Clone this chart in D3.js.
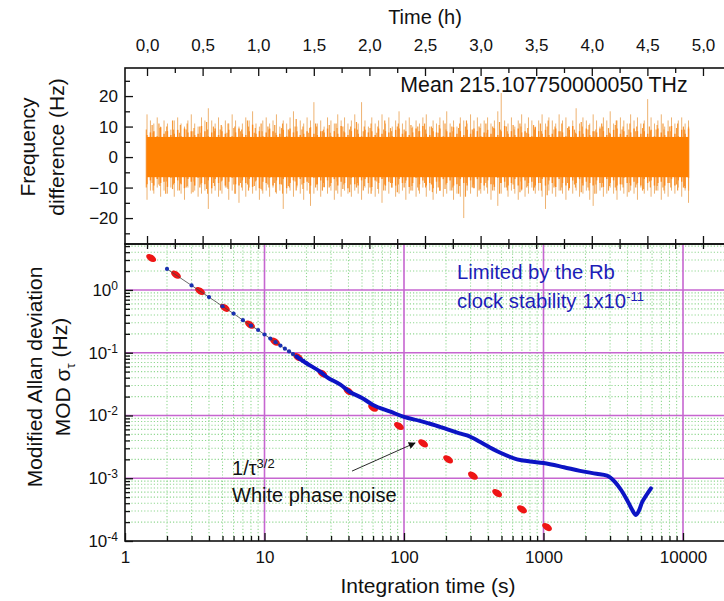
<!DOCTYPE html>
<html><head><meta charset="utf-8">
<script src="https://cdn.jsdelivr.net/npm/d3@7"></script>
<style>body{margin:0;background:#fff} text{font-family:"Liberation Sans",Arial,sans-serif;fill:#111}</style>
</head><body><svg id="c" width="724" height="601"></svg>
<script>
// ---------------- data ----------------
const timeMajorTicks = [0,0.5,1,1.5,2,2.5,3,3.5,4,4.5,5];
const timeMinorTicks = [0.25,0.75,1.25,1.75,2.25,2.75,3.25,3.75,4.25,4.75];
const freqMajorTicks = [-20,-10,0,10,20];
const freqMinorTicks = [-25,-15,-5,5,15,25];
const tauTicks = [1,10,100,1000,10000];
const sigmaTicks = [1e-4,1e-3,1e-2,1e-1,1];

const noiseStart = 0, noiseEnd = 4.87; // hours
// outer spike envelope (Hz)
const noiseHi = [14,12,11,13,10,12,11,9,12,13,11,10,12,14,11,10,13,12,16,12,
 11,13,10,12,11,14,12,10,11,13,12,15,11,10,12,13,11,12,14,10,
 12,11,13,15,10,12,11,13,12,18,11,12,10,13,12,11,14,12,13,11,
 12,14,11,18,12,10,13,11,12,14,11,13,10,12,15,11,12,13,10,12,
 11,13,14,10,12,11,13,12,15,11,12,10,13,12,11,14,12,13,11,12,
 13,11,12,15,21,12,11,13,10,12,14,11,13,12,10,12,14,11,13,12,
 11,14,12,13,10,12,16,11,13,12,11,14,12,10,13,12,15,11,12,13,
 12,11,14,12,13,11,12,19,13,11,12,14,10,12,13,11,12,13,11,12];
const noiseLo = [-14,-11,-12,-10,-13,-11,-12,-10,-13,-11,-12,-14,-10,-12,-11,-13,-12,-11,-17,-12,
 -11,-13,-12,-10,-14,-11,-12,-15,-11,-13,-10,-12,-11,-14,-12,-11,-13,-10,-12,-11,
 -17,-12,-11,-13,-10,-12,-14,-11,-16,-12,-11,-13,-10,-12,-11,-14,-12,-13,-11,-12,
 -13,-11,-12,-14,-10,-12,-11,-13,-12,-15,-11,-12,-10,-13,-12,-11,-14,-12,-11,-13,
 -12,-10,-13,-11,-14,-12,-11,-13,-12,-11,-14,-12,-13,-20,-11,-12,-10,-13,-12,-11,
 -12,-14,-11,-16,-12,-10,-13,-11,-12,-14,-11,-13,-12,-10,-12,-11,-13,-17,-11,-12,
 -13,-11,-12,-14,-10,-12,-11,-13,-12,-11,-14,-16,-12,-11,-13,-12,-10,-12,-14,-11,
 -12,-13,-11,-12,-14,-10,-12,-11,-13,-12,-11,-14,-12,-13,-11,-12,-10,-13,-11,-15];
// dense inner envelope (Hz)
const midHi = [9,10.5,8,11,9.5,8.5,10,12,9,8,10.5,9,11,8.5,9.5,10,8,11.5,9,10,
 8.5,9,10.5,8,11,9.5,10,8.5,9,12,10,8,9.5,11,8.5,10,9,10.5,8,9.5,
 11,9,8.5,10,12.5,9,10,8,9.5,11,10,8.5,9,10.5,8,11,9.5,10,8.5,9,
 10,11.5,9,8.5,10,9.5,11,8,10,9,12,9.5,8.5,10,11,9,8,10.5,9.5,10,
 8.5,11,9,10,9.5,8,10.5,11,9,10,8.5,9.5,11,10,12,9,8.5,10,9.5,11,
 8,10,9.5,11.5,9,10,8.5,10.5,9,11,10,8,9.5,10.5,9,11,8.5,10,12,9,
 10,8.5,11,9.5,10,9,8,11.5,10,9,10.5,8.5,9,11,10,9.5,8,10.5,12,9,
 10,9,11,8.5,10,9.5,11,10,8.5,9,10.5,11,9,10,8.5,9.5,11,10,9,10];
const midLo = [-10,-8.5,-11,-9,-9.5,-12,-8,-10.5,-9,-11,-8.5,-10,-9.5,-11.5,-8,-10,-9,-10.5,-12,-8.5,
 -9.5,-11,-8,-10,-10.5,-9,-12,-8.5,-10,-9,-11,-9.5,-8,-10.5,-11,-9,-10,-8.5,-11.5,-9,
 -12,-9.5,-10,-8,-11,-9,-10.5,-8.5,-12,-10,-9,-11,-8.5,-10,-9.5,-11,-8,-10.5,-9,-11.5,
 -9,-10,-8.5,-11,-9.5,-10,-12,-8,-10.5,-11,-9,-8.5,-10,-11.5,-9,-10,-8.5,-11,-9.5,-10,
 -11,-8.5,-10,-9,-11.5,-10,-8,-10.5,-9,-11,-10,-12,-9.5,-13,-8.5,-10,-9,-11,-10.5,-8.5,
 -10,-11,-9,-12,-8.5,-10,-11,-9,-10.5,-11.5,-8,-10,-9.5,-11,-10,-8.5,-11,-12.5,-9,-10,
 -9.5,-11,-10,-8.5,-11,-9,-10,-11.5,-8.5,-10,-11,-12,-9,-10,-8.5,-11,-9.5,-10,-11,-9,
 -10,-11.5,-8.5,-10,-9,-11,-10.5,-8,-10,-11,-9.5,-10,-11,-8.5,-10,-9,-11,-10,-9.5,-11];
const coreHalf = 6.6; // solid core half width (Hz)

// white phase noise reference (1/tau^3/2)
const whiteTau   = [1.54,2.32,3.45,5.2,7.87,11.9,17.4,26,40,60,92,137,207,312,465,701,1060];
const whiteSigma = [3.23,1.75,0.963,0.52,0.28,0.15,0.085,0.0466,0.0244,0.0133,0.0068,0.0036,0.002,0.0011,0.00058,0.00032,0.000167];

// measured MOD Allan deviation: sparse points (thin part)
const rbDotTau   = [2,3,4,5,6,7,8,9,10,11,12,13,14,15,16,17,18,19,20];
const rbDotSigma = [2.16,1.18,0.77,0.55,0.42,0.33,0.27,0.23,0.195,0.168,0.147,0.13,0.116,0.105,0.095,0.087,0.08,0.074,0.068];
// dense part (thick line)
const rbTau   = [17,20,25,28,35,41,50,60,80,100,130,150,181,200,250,283,350,413,500,646,800,1000,1400,1827,2400,2850,3260,3600,3970,4300,4600,4850,5080,5500,5890];
const rbSigma = [0.087,0.068,0.05,0.041,0.031,0.0237,0.019,0.0147,0.0115,0.0095,0.0082,0.0075,0.0066,0.0061,0.0052,0.0048,0.0038,0.0031,0.0025,0.002,0.00185,0.00175,0.0015,0.00131,0.00118,0.0011,0.00087,0.00065,0.00045,0.00032,0.00026,0.00031,0.00041,0.00055,0.00069];

// ---------------- layout ----------------
const L = 125, R = 725, T1 = 68, S = 244, B = 541;
const svg = d3.select("#c");

const xTime = d3.scaleLinear().domain([-0.198, 5.198]).range([L, R]);
const yFreq = d3.scaleLinear().domain([-28.5, 29.2]).range([S, T1]);
const xTau = d3.scaleLog().domain([1, 20000]).range([L, R]);
const ySig = d3.scaleLog().domain([1e-4, 5.4]).range([B, S]);

svg.append("defs").html(
  `<clipPath id="cpTop"><rect x="${L}" y="${T1}" width="${R-L}" height="${S-T1}"/></clipPath>
   <clipPath id="cpBot"><rect x="${L}" y="${S}" width="${R-L}" height="${B-S}"/></clipPath>
   <marker id="arr" viewBox="0 0 10 10" refX="9" refY="5" markerWidth="9" markerHeight="7" orient="auto" markerUnits="userSpaceOnUse">
     <path d="M0,0 L10,5 L0,10 z" fill="#111"/></marker>`);

// ---------------- top panel: frequency noise ----------------
const gTop = svg.append("g").attr("clip-path", "url(#cpTop)");
const tAt = (arr, i) => noiseStart + i * (noiseEnd - noiseStart) / (arr.length - 1);
gTop.selectAll("line.sp").data(noiseHi).join("line")
  .attr("x1", (d,i) => xTime(tAt(noiseHi, i))).attr("x2", (d,i) => xTime(tAt(noiseHi, i)))
  .attr("y1", (d,i) => yFreq(noiseLo[i])).attr("y2", d => yFreq(d))
  .attr("stroke", "#eeb270").attr("stroke-width", 1);
const off = (noiseEnd - noiseStart) / (midHi.length - 1) / 2;
gTop.selectAll("line.mid").data(midHi).join("line")
  .attr("x1", (d,i) => xTime(Math.min(noiseEnd, tAt(midHi, i) + off * (i % 2 ? 1 : -0.4))))
  .attr("x2", (d,i) => xTime(Math.min(noiseEnd, tAt(midHi, i) + off * (i % 2 ? 1 : -0.4))))
  .attr("y1", (d,i) => yFreq(midLo[i])).attr("y2", d => yFreq(d))
  .attr("stroke", "#f69a3a").attr("stroke-width", 1.2);
gTop.selectAll("line.mid2").data(midHi).join("line")
  .attr("x1", (d,i) => xTime(tAt(midHi, i))).attr("x2", (d,i) => xTime(tAt(midHi, i)))
  .attr("y1", (d,i) => yFreq(midLo[(i + 7) % midLo.length] * 0.85)).attr("y2", (d,i) => yFreq(midHi[(i + 13) % midHi.length] * 0.85))
  .attr("stroke", "#fb8a1e").attr("stroke-width", 1.4);
gTop.append("rect").attr("x", xTime(noiseStart)).attr("width", xTime(noiseEnd)-xTime(noiseStart))
  .attr("y", yFreq(coreHalf)).attr("height", yFreq(-coreHalf)-yFreq(coreHalf)).attr("fill", "#ff8000");

// ---------------- bottom panel: grids ----------------
const gBot = svg.append("g").attr("clip-path", "url(#cpBot)");
const minorTau = [], minorSig = [];
[1,10,100,1000,10000].forEach(dec => [2,3,4,5,6,7,8,9].forEach(m => minorTau.push(dec*m)));
[1e-4,1e-3,1e-2,1e-1,1].forEach(dec => [2,3,4,5,6,7,8,9].forEach(m => minorSig.push(dec*m)));
gBot.selectAll("line.mgx").data(minorTau).join("line")
  .attr("x1", d => xTau(d)).attr("x2", d => xTau(d)).attr("y1", S).attr("y2", B)
  .attr("stroke", "#92d892").attr("stroke-width", 1.1).attr("stroke-dasharray", "1.2,2");
gBot.selectAll("line.mgy").data(minorSig).join("line")
  .attr("x1", L).attr("x2", R).attr("y1", d => ySig(d)).attr("y2", d => ySig(d))
  .attr("stroke", "#92d892").attr("stroke-width", 1.1).attr("stroke-dasharray", "1.2,2");
gBot.selectAll("line.Mgx").data(tauTicks.slice(1)).join("line")
  .attr("x1", d => xTau(d)).attr("x2", d => xTau(d)).attr("y1", S).attr("y2", B)
  .attr("stroke", "#c666d0").attr("stroke-width", 1.6);
gBot.selectAll("line.Mgy").data(sigmaTicks.slice(1)).join("line")
  .attr("x1", L).attr("x2", R).attr("y1", d => ySig(d)).attr("y2", d => ySig(d))
  .attr("stroke", "#c666d0").attr("stroke-width", 1.6);

// ---------------- bottom panel: data ----------------
const ang = Math.atan2(ySig(whiteSigma[1]) - ySig(whiteSigma[0]), xTau(whiteTau[1]) - xTau(whiteTau[0])) * 180 / Math.PI;
gBot.selectAll("ellipse.wp").data(whiteTau).join("ellipse")
  .attr("transform", (d,i) => `translate(${xTau(d)},${ySig(whiteSigma[i])}) rotate(${ang})`)
  .attr("rx", 5.5).attr("ry", 3.3).attr("fill", "#ee1515");

gBot.append("path")
  .attr("d", d3.line().x(d => xTau(d)).y((d,i) => ySig(rbDotSigma[i]))(rbDotTau))
  .attr("fill", "none").attr("stroke", "#444").attr("stroke-width", 0.8);
gBot.selectAll("circle.rb").data(rbDotTau).join("circle")
  .attr("cx", d => xTau(d)).attr("cy", (d,i) => ySig(rbDotSigma[i])).attr("r", 2.1)
  .attr("fill", "#1a30b0");
gBot.append("path")
  .attr("d", d3.line().curve(d3.curveMonotoneX).x(d => xTau(d)).y((d,i) => ySig(rbSigma[i]))(rbTau))
  .attr("fill", "none").attr("stroke", "#0c14c4").attr("stroke-width", 4).attr("stroke-linejoin", "round").attr("stroke-linecap", "round");

// ---------------- frames ----------------
svg.append("rect").attr("x", L).attr("y", T1).attr("width", R-L).attr("height", S-T1)
  .attr("fill", "none").attr("stroke", "#111").attr("stroke-width", 1.6);
svg.append("rect").attr("x", L).attr("y", S).attr("width", R-L).attr("height", B-S)
  .attr("fill", "none").attr("stroke", "#111").attr("stroke-width", 1.6);

// ---------------- axes ----------------
function styleAx(g) {
  g.select(".domain").remove();
  g.selectAll(".tick line").attr("stroke", "#111").attr("stroke-width", 1.3);
  g.selectAll("text").attr("font-size", 17).attr("fill", "#111")
    .attr("font-family", '"Liberation Sans",Arial,sans-serif');
}
const fmtH = d => d.toFixed(1).replace(".", ",");
svg.append("g").attr("transform", `translate(0,${T1})`)
  .call(d3.axisTop(xTime).tickValues(timeMajorTicks).tickSizeInner(-8).tickSizeOuter(0).tickPadding(17).tickFormat(fmtH)).call(styleAx);
svg.append("g").attr("transform", `translate(0,${T1})`)
  .call(d3.axisTop(xTime).tickValues(timeMinorTicks).tickSizeInner(-5).tickSizeOuter(0).tickFormat("")).call(styleAx);
svg.append("g").attr("transform", `translate(0,${S})`)
  .call(d3.axisBottom(xTime).tickValues(timeMajorTicks).tickSizeInner(-8).tickSizeOuter(0).tickFormat("")).call(styleAx);
svg.append("g").attr("transform", `translate(0,${S})`)
  .call(d3.axisBottom(xTime).tickValues(timeMinorTicks).tickSizeInner(-5).tickSizeOuter(0).tickFormat("")).call(styleAx);
svg.append("g").attr("transform", `translate(0,${S})`)
  .call(d3.axisBottom(xTime).tickValues(timeMajorTicks.concat(timeMinorTicks)).tickSizeInner(5).tickSizeOuter(0).tickFormat("")).call(styleAx);
svg.append("g").attr("transform", `translate(${L},0)`)
  .call(d3.axisLeft(yFreq).tickValues(freqMajorTicks).tickSizeInner(-8).tickSizeOuter(0).tickPadding(7).tickFormat(d3.format("d"))).call(styleAx);
svg.append("g").attr("transform", `translate(${L},0)`)
  .call(d3.axisLeft(yFreq).tickValues(freqMinorTicks).tickSizeInner(-5).tickSizeOuter(0).tickFormat("")).call(styleAx);
svg.append("g").attr("transform", `translate(0,${B})`)
  .call(d3.axisBottom(xTau).tickValues(tauTicks).tickSizeInner(-8).tickSizeOuter(0).tickPadding(10).tickFormat(d3.format("d"))).call(styleAx);
svg.append("g").attr("transform", `translate(0,${B})`)
  .call(d3.axisBottom(xTau).tickValues(minorTau).tickSizeInner(-5).tickSizeOuter(0).tickFormat("")).call(styleAx);
const gy = svg.append("g").attr("transform", `translate(${L},0)`)
  .call(d3.axisLeft(ySig).tickValues(sigmaTicks).tickSizeInner(-8).tickSizeOuter(0).tickPadding(7).tickFormat(d => "10")).call(styleAx);
gy.selectAll(".tick text").each(function(d) {
  const e = Math.round(Math.log10(d));
  d3.select(this).append("tspan").attr("dy", "-0.5em").attr("font-size", 12).text(e);
});
svg.append("g").attr("transform", `translate(${L},0)`)
  .call(d3.axisLeft(ySig).tickValues(minorSig.filter(v => v < 5.4)).tickSizeInner(-5).tickSizeOuter(0).tickFormat("")).call(styleAx);

// ---------------- titles ----------------
svg.append("text").attr("x", (L+R)/2).attr("y", 24).attr("text-anchor", "middle").attr("font-size", 20).text("Time (h)");
svg.append("text").attr("x", (L+R)/2 + 3).attr("y", 593).attr("text-anchor", "middle").attr("font-size", 21).text("Integration time (s)");
svg.append("text").attr("transform", "translate(35,147) rotate(-90)").attr("text-anchor", "middle").attr("font-size", 21).text("Frequency");
svg.append("text").attr("transform", "translate(64,147) rotate(-90)").attr("text-anchor", "middle").attr("font-size", 21).text("difference (Hz)");
svg.append("text").attr("transform", "translate(42,377) rotate(-90)").attr("text-anchor", "middle").attr("font-size", 21).text("Modified Allan deviation");
const modT = svg.append("text").attr("transform", "translate(70,377) rotate(-90)").attr("text-anchor", "middle").attr("font-size", 21);
modT.append("tspan").text("MOD σ");
modT.append("tspan").attr("font-size", 13).attr("dy", "0.35em").text("τ");
modT.append("tspan").attr("dy", "-0.35em").text(" (Hz)");

// ---------------- annotations (data coordinates) ----------------
svg.append("text").attr("x", xTime(3.57)).attr("y", yFreq(21.3)).attr("text-anchor", "middle").attr("font-size", 21.3)
  .text("Mean 215.107750000050 THz");
svg.append("text").attr("x", xTau(240)).attr("y", ySig(1.5)).attr("font-size", 20.3).style("fill", "#1c1cb8").text("Limited by the Rb");
const cs = svg.append("text").attr("x", xTau(240)).attr("y", ySig(0.516)).attr("font-size", 20.3).style("fill", "#1c1cb8");
cs.append("tspan").text("clock stability 1x10");
cs.append("tspan").attr("dy", "-0.55em").attr("font-size", 13).style("fill", "#1c1cb8").text("-11");
const wt = svg.append("text").attr("x", xTau(5.85)).attr("y", ySig(0.00113)).attr("font-size", 20);
wt.append("tspan").text("1/τ");
wt.append("tspan").attr("dy", "-0.55em").attr("font-size", 13).text("3/2");
svg.append("text").attr("x", xTau(5.85)).attr("y", ySig(0.00042)).attr("font-size", 20).text("White phase noise");
svg.append("line").attr("x1", xTau(42.4)).attr("y1", ySig(0.0013)).attr("x2", xTau(120)).attr("y2", ySig(0.00365))
  .attr("stroke", "#111").attr("stroke-width", 0.9).attr("marker-end", "url(#arr)");
</script></body></html>
